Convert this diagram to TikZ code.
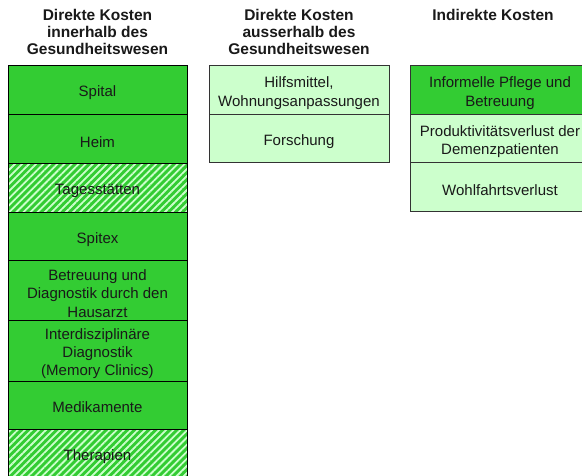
\documentclass[tikz,border=0pt]{standalone}
\usepackage{fontspec}
\setmainfont{Liberation Sans}
\usetikzlibrary{patterns.meta}
\definecolor{kostgreen}{HTML}{33CC33}
\definecolor{kostlight}{HTML}{CCFFCC}
\tikzset{
  strong/.style={fill=kostgreen},
  weak/.style={fill=kostlight},
  hatched/.style={preaction={fill=kostgreen},
    pattern={Lines[angle=45,distance=5pt,line width=1.8pt]}, pattern color=kostlight},
  heading/.style={anchor=north, font=\fontsize{15.5}{17}\selectfont\bfseries}
}
\begin{document}
\begin{tikzpicture}[x=1pt, y=-1pt, line width=1pt,
    every node/.style={font=\fontsize{15}{18.3}\selectfont, align=center, text=black!90}]
    \clip (0,0) rectangle (582,476);
    \fill[white] (0,0) rectangle (582,476);

    % Headings
    \node[heading] (headinner) at (97.5,5) {Direkte Kosten\\innerhalb des\\Gesundheitswesen};
    \node[heading] (headouter) at (299,5) {Direkte Kosten\\ausserhalb des\\Gesundheitswesen};
    \node[heading] (headindirect) at (493,5) {Indirekte Kosten};

    \begin{scope}[every node/.append style={yshift=-2.5pt}]
    % Column 1: innerhalb des Gesundheitswesens
    \draw[strong] (8,66) rectangle (187,115) node[midway] (spital) {Spital};
    \draw[strong] (8,115) rectangle (187,164) node[midway] (heim) {Heim};
    \draw[hatched] (8,164) rectangle (187,213) node[midway] (tages) {Tagesstätten};
    \draw[strong] (8,213) rectangle (187,261) node[midway] (spitex) {Spitex};
    \draw[strong] (8,261) rectangle (187,321) node[midway] (hausarzt) {Betreuung und\\Diagnostik durch den\\Hausarzt};
    \draw[strong] (8,321) rectangle (187,381) node[midway] (memory) {Interdisziplinäre\\Diagnostik\\(Memory Clinics)};
    \draw[strong] (8,381) rectangle (187,429) node[midway] (medi) {Medikamente};
    \draw[hatched] (8,429) rectangle (187,480) node[midway] (therapie) {Therapien};

    % Column 2: ausserhalb des Gesundheitswesens
    \draw[weak, draw=black!80] (209,66) rectangle (389,115) node[midway] (hilfe) {Hilfsmittel,\\Wohnungsanpassungen};
    \draw[weak, draw=black!80] (209,115) rectangle (389,163) node[midway] (forschung) {Forschung};

    % Column 3: indirekte Kosten
    \draw[strong, draw=black!80] (410,66) rectangle (590,115) node[midway] (pflege) {Informelle Pflege und\\Betreuung};
    \draw[weak, draw=black!80] (410,115) rectangle (590,163) node[midway] (produkt) {Produktivitätsverlust der\\Demenzpatienten};
    \draw[weak, draw=black!80] (410,163) rectangle (590,212) node[midway] (wohlfahrt) {Wohlfahrtsverlust};
    \end{scope}
\end{tikzpicture}
\end{document}
